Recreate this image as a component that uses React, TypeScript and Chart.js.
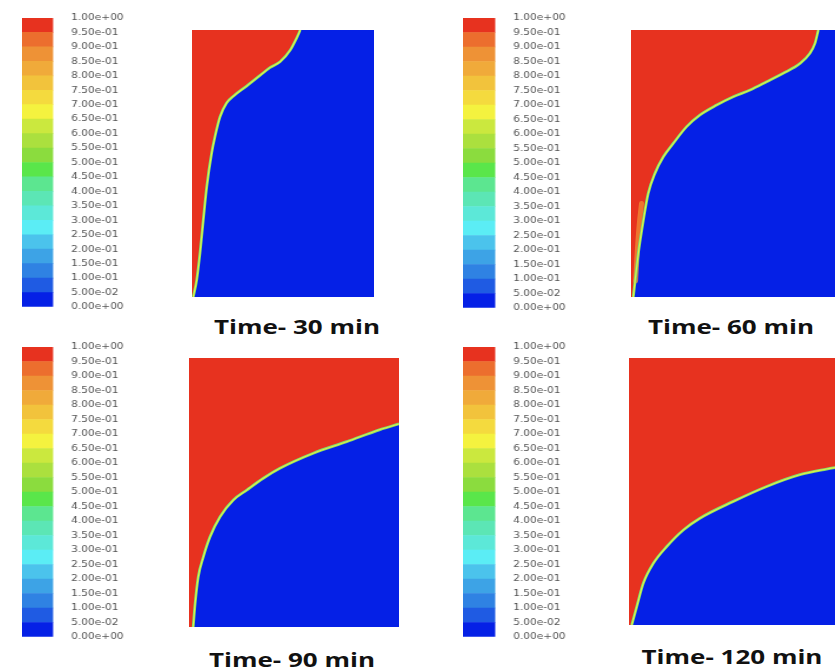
import { useEffect, useRef } from "react";
import { Chart, registerables } from "chart.js";

Chart.register(...registerables);

// Volume-fraction contour levels shown on every legend bar (bottom to top)
const levels = [
  0, 0.05, 0.1, 0.15, 0.2, 0.25, 0.3, 0.35, 0.4, 0.45, 0.5,
  0.55, 0.6, 0.65, 0.7, 0.75, 0.8, 0.85, 0.9, 0.95, 1,
];

// One colour per band between consecutive levels (bottom to top)
const bandColors = [
  "#0520E6", "#1F5BE3", "#2F82E3", "#3DA3E6", "#4BC3EC",
  "#5BEDF5", "#5CE8D8", "#5CE6B5", "#5CE690", "#5AE64A",
  "#8BDC3E", "#ABE03E", "#CBE83E", "#F4F23F", "#F4DA3E",
  "#F2C33C", "#F0AA3A", "#EE9236", "#EC6E2E", "#E7321F",
];

const RED = "#E7321F";
const BLUE = "#0520E6";
const ORANGE = "rgba(240,140,52,0.75)";

const titles = ["Time- 30 min", "Time- 60 min", "Time- 90 min", "Time- 120 min"];

// Phase interface: x = fraction of domain width, y = fraction of domain height from the bottom
const front30x = [0.007, 0.026, 0.044, 0.062, 0.081, 0.108, 0.126, 0.154, 0.19, 0.227, 0.3, 0.374, 0.43, 0.484, 0.54, 0.575, 0.595];
const front30y = [0, 0.064, 0.165, 0.288, 0.413, 0.539, 0.6, 0.675, 0.727, 0.752, 0.79, 0.83, 0.86, 0.881, 0.925, 0.97, 1];

const front60x = [0.011, 0.035, 0.059, 0.082, 0.114, 0.154, 0.201, 0.265, 0.329, 0.408, 0.487, 0.567, 0.646, 0.725, 0.805, 0.852, 0.876, 0.892];
const front60y = [0, 0.164, 0.288, 0.388, 0.463, 0.525, 0.575, 0.638, 0.682, 0.719, 0.75, 0.775, 0.806, 0.838, 0.875, 0.913, 0.95, 1];

const front90x = [0.02, 0.029, 0.044, 0.068, 0.1, 0.148, 0.211, 0.275, 0.354, 0.433, 0.592, 0.751, 0.91, 1];
const front90y = [0, 0.086, 0.186, 0.26, 0.335, 0.41, 0.472, 0.509, 0.553, 0.59, 0.646, 0.689, 0.734, 0.755];

const front120x = [0.013, 0.037, 0.068, 0.116, 0.18, 0.259, 0.338, 0.497, 0.656, 0.814, 0.941, 1];
const front120y = [0, 0.069, 0.156, 0.231, 0.294, 0.356, 0.4, 0.463, 0.519, 0.563, 0.584, 0.592];

// Partly mixed pocket beside the wall in the 60 min field
const pocket60x = [0.022, 0.029, 0.039, 0.05];
const pocket60y = [0.06, 0.16, 0.27, 0.35];

const frontsX = [front30x, front60x, front90x, front120x];
const frontsY = [front30y, front60y, front90y, front120y];
const pocketsX: (number[] | null)[] = [null, pocket60x, null, null];
const pocketsY: (number[] | null)[] = [null, pocket60y, null, null];

type Box = { x: number; y: number; w: number; h: number };

// Page layout of the four panels
const panels: { bar: Box; plot: Box; cx: number; base: number }[] = [
  { bar: { x: 22, y: 18, w: 31, h: 289 }, plot: { x: 192, y: 30, w: 182, h: 267 }, cx: 297, base: 335 },
  { bar: { x: 463, y: 18, w: 32, h: 290 }, plot: { x: 631, y: 30, w: 210, h: 267 }, cx: 731, base: 335 },
  { bar: { x: 22, y: 347, w: 31, h: 290 }, plot: { x: 189, y: 358, w: 210, h: 269 }, cx: 292, base: 668 },
  { bar: { x: 463, y: 347, w: 32, h: 290 }, plot: { x: 629, y: 358, w: 210, h: 267 }, cx: 732, base: 665 },
];

const BAR_PAD = 8;
const LABEL_W = 82;
const LABEL_GAP = 18;
const STRETCH = 1.18;

function sci(v: number): string {
  const [m, e] = v.toExponential(2).split("e");
  const n = Number(e);
  return `${m}e${n < 0 ? "-" : "+"}${String(Math.abs(n)).padStart(2, "0")}`;
}

function ColorBar({ box }: { box: Box }) {
  const ref = useRef<HTMLCanvasElement>(null);
  const outW = box.w + LABEL_W;
  const W = Math.round(outW / STRETCH);
  const H = box.h + BAR_PAD * 2;
  useEffect(() => {
    const chart = new Chart(ref.current!, {
      type: "bar",
      data: {
        labels: ["vof"],
        datasets: bandColors.map((c, i) => ({
          data: [levels[i + 1] - levels[i]],
          backgroundColor: c,
          borderWidth: 0,
          barPercentage: 1,
          categoryPercentage: 1,
          stack: "bar",
        })),
      },
      options: {
        responsive: false,
        animation: false,
        devicePixelRatio: 1,
        layout: { padding: { top: BAR_PAD, bottom: BAR_PAD, left: 0, right: 0 } },
        plugins: { legend: { display: false }, tooltip: { enabled: false } },
        scales: {
          x: { display: false, stacked: true },
          y: {
            stacked: true,
            min: 0,
            max: 1,
            position: "right",
            grid: {
              display: true,
              drawOnChartArea: false,
              drawTicks: true,
              tickLength: LABEL_GAP / STRETCH,
              color: "rgba(0,0,0,0)",
            },
            border: { display: false },
            afterBuildTicks: (s: any) => {
              s.ticks = levels.map((v) => ({ value: v }));
            },
            afterFit: (s: any) => {
              s.width = LABEL_W / STRETCH;
            },
            ticks: {
              autoSkip: false,
              padding: 0,
              color: "#555",
              font: { family: "'DejaVu Sans'", size: 9 },
              callback: (v: any) => sci(Number(v)),
            },
          },
        },
      },
    } as any);
    return () => chart.destroy();
  }, []);
  return (
    <canvas
      ref={ref}
      width={W}
      height={H}
      style={{ position: "absolute", left: box.x, top: box.y - BAR_PAD, width: outW, height: H }}
    />
  );
}

function Contour({
  box, xs, ys, px, py,
}: { box: Box; xs: number[]; ys: number[]; px: number[] | null; py: number[] | null }) {
  const ref = useRef<HTMLCanvasElement>(null);
  useEffect(() => {
    const front = xs.map((x, i) => ({ x, y: ys[i] }));
    // closed outline along the domain walls for the two phase fills
    const outline = [...front];
    if (outline[0].x > 0) outline.unshift({ x: 0, y: 0 });
    const last = outline[outline.length - 1];
    if (last.x < 1) outline.push({ x: 1, y: 1 });
    const common = { pointRadius: 0, cubicInterpolationMode: "monotone" as const };
    const datasets: any[] = [
      { ...common, data: front, borderColor: "#E2EE46", borderWidth: 1.1, fill: false, order: 0 },
      { ...common, data: front, borderColor: "#7FDC70", borderWidth: 2.8, fill: false, order: 1 },
      { ...common, data: outline, borderColor: "rgba(0,0,0,0)", borderWidth: 0, fill: "end", backgroundColor: RED, order: 3 },
      { ...common, data: outline, borderColor: "rgba(0,0,0,0)", borderWidth: 0, fill: "start", backgroundColor: BLUE, order: 4 },
    ];
    if (px && py) {
      datasets.push({
        ...common,
        data: px.map((x, i) => ({ x, y: py[i] })),
        borderColor: ORANGE,
        borderWidth: 5,
        borderCapStyle: "round",
        fill: false,
        order: 2,
      });
    }
    const chart = new Chart(ref.current!, {
      type: "line",
      data: { datasets },
      options: {
        responsive: false,
        animation: false,
        devicePixelRatio: 1,
        layout: { padding: 0 },
        plugins: { legend: { display: false }, tooltip: { enabled: false } },
        scales: {
          x: { type: "linear", min: 0, max: 1, display: false },
          y: { type: "linear", min: 0, max: 1, display: false },
        },
      },
    } as any);
    return () => chart.destroy();
  }, []);
  return (
    <canvas
      ref={ref}
      width={box.w}
      height={box.h}
      style={{ position: "absolute", left: box.x, top: box.y, width: box.w, height: box.h }}
    />
  );
}

function Title({ text, cx, base }: { text: string; cx: number; base: number }) {
  return (
    <div
      style={{
        position: "absolute",
        left: cx,
        top: base - 17.8,
        font: "700 20px 'Open Sans'",
        lineHeight: "20px",
        color: "#111",
        whiteSpace: "nowrap",
        transform: "translateX(-50%) scaleX(1.3)",
      }}
    >
      {text}
    </div>
  );
}

export default function App() {
  return (
    <div
      style={{
        position: "fixed",
        left: 0,
        top: 0,
        width: 835,
        height: 672,
        overflow: "hidden",
        background: "#fff",
      }}
    >
      {panels.map((p, i) => (
        <div key={i}>
          <ColorBar box={p.bar} />
          <Contour box={p.plot} xs={frontsX[i]} ys={frontsY[i]} px={pocketsX[i]} py={pocketsY[i]} />
          <Title text={titles[i]} cx={p.cx} base={p.base} />
        </div>
      ))}
    </div>
  );
}
